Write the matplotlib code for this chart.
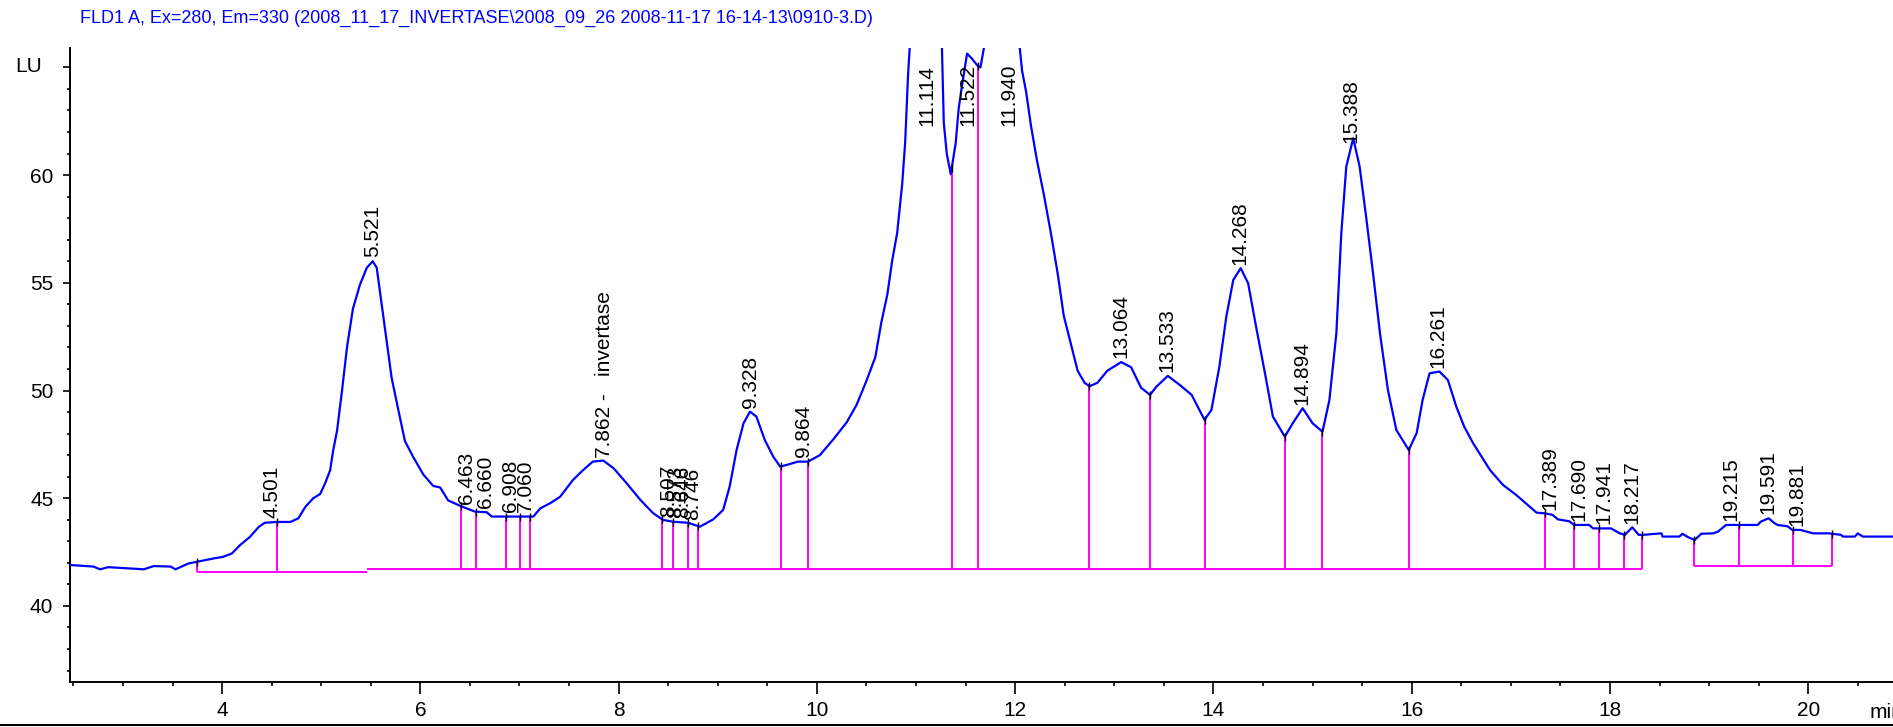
import numpy as np
import matplotlib
matplotlib.use("Agg")
import matplotlib.pyplot as plt
from matplotlib.lines import Line2D
from matplotlib.ticker import MultipleLocator

plt.rcParams["font.family"] = ["Liberation Sans", "DejaVu Sans"]

TITLE = r"FLD1 A, Ex=280, Em=330 (2008_11_17_INVERTASE\2008_09_26 2008-11-17 16-14-13\0910-3.D)"

# detector trace (min, LU); apexes of 11.1 / 11.9 are off scale
trace_t = [
    2.47, 2.70, 2.77, 2.85, 3.04, 3.21, 3.31, 3.48, 3.53, 3.66, 3.745, 3.91, 4.01, 4.10,
    4.18, 4.28, 4.37, 4.43, 4.55, 4.69, 4.77, 4.84, 4.92, 4.99, 5.04, 5.09, 5.12, 5.16,
    5.21, 5.26, 5.32, 5.39, 5.46, 5.52, 5.56, 5.61, 5.66, 5.71, 5.78, 5.845, 5.93, 6.03,
    6.13, 6.20, 6.28, 6.40, 6.55, 6.67, 6.72, 6.87, 7.14, 7.21, 7.31, 7.41, 7.54, 7.64,
    7.74, 7.845, 7.95, 8.08, 8.22, 8.35, 8.45, 8.55, 8.70, 8.82, 8.955, 9.055, 9.12, 9.19,
    9.26, 9.325, 9.39, 9.475, 9.56, 9.63, 9.69, 9.81, 9.91, 10.03, 10.165, 10.30, 10.40,
    10.50, 10.59, 10.65, 10.71, 10.76, 10.81, 10.86, 10.89, 10.92, 10.94, 11.00, 11.11,
    11.22, 11.26, 11.28, 11.31, 11.35, 11.40, 11.43, 11.465, 11.515, 11.565, 11.62, 11.65,
    11.70, 11.80, 11.94, 12.00, 12.04, 12.07, 12.11, 12.16, 12.22, 12.29, 12.36, 12.43,
    12.49, 12.56, 12.63, 12.70, 12.75, 12.83, 12.93, 13.07, 13.17, 13.27, 13.36, 13.425,
    13.54, 13.66, 13.78, 13.91, 13.98, 14.06, 14.13, 14.20, 14.275, 14.35, 14.43, 14.52,
    14.60, 14.72, 14.80, 14.90, 15.00, 15.10, 15.17, 15.24, 15.29, 15.34, 15.41, 15.475,
    15.54, 15.61, 15.68, 15.76, 15.845, 15.97, 16.05, 16.11, 16.18, 16.28, 16.365, 16.45,
    16.53, 16.62, 16.75, 16.79, 16.92, 17.055, 17.19, 17.26, 17.34, 17.42, 17.475, 17.59,
    17.64, 17.79, 17.83, 18.01, 18.10, 18.15, 18.225, 18.29, 18.33, 18.52, 18.53, 18.70,
    18.73, 18.785, 18.855, 18.92, 19.04, 19.09, 19.17, 19.30, 19.49, 19.52, 19.60, 19.66,
    19.69, 19.79, 19.84, 19.92, 20.05, 20.21, 20.33, 20.35, 20.47, 20.50, 20.55, 20.86,
]
trace_lu = [
    41.90, 41.83, 41.70, 41.80, 41.75, 41.70, 41.85, 41.83, 41.70, 41.97, 42.05, 42.20, 42.28, 42.44,
    42.82, 43.20, 43.67, 43.86, 43.90, 43.90, 44.07, 44.60, 45.00, 45.20, 45.70, 46.30, 47.20, 48.14,
    50.00, 52.00, 53.80, 54.90, 55.70, 56.00, 55.70, 54.00, 52.30, 50.60, 49.05, 47.65, 46.90, 46.10,
    45.57, 45.50, 44.90, 44.65, 44.38, 44.35, 44.15, 44.15, 44.15, 44.53, 44.77, 45.07, 45.85, 46.30,
    46.70, 46.75, 46.39, 45.70, 44.92, 44.30, 43.99, 43.91, 43.86, 43.68, 44.02, 44.46, 45.54, 47.24,
    48.48, 49.02, 48.79, 47.70, 46.93, 46.47, 46.54, 46.70, 46.70, 47.00, 47.73, 48.52, 49.33,
    50.45, 51.56, 53.16, 54.44, 56.04, 57.32, 59.56, 61.48, 64.68, 66.20, 70.00, 72.00,
    69.00, 66.20, 62.44, 61.00, 60.04, 61.48, 63.08, 64.20, 65.64, 65.40, 65.08, 65.00,
    66.30, 69.00, 71.00, 68.50, 66.20, 64.84, 63.88, 62.28, 60.68, 59.08, 57.32, 55.40,
    53.48, 52.20, 50.92, 50.36, 50.20, 50.36, 50.92, 51.32, 51.08, 50.13, 49.80, 50.18,
    50.68, 50.26, 49.80, 48.64, 49.10, 51.11, 53.43, 55.13, 55.68, 54.98, 52.97, 50.80,
    48.79, 47.86, 48.48, 49.18, 48.48, 48.09, 49.56, 52.66, 57.30, 60.39, 61.71, 60.39,
    58.07, 55.45, 52.66, 50.03, 48.17, 47.24, 48.02, 49.56, 50.80, 50.88, 50.49, 49.25,
    48.32, 47.55, 46.60, 46.31, 45.62, 45.15, 44.61, 44.33, 44.30, 44.23, 44.02, 43.93,
    43.76, 43.76, 43.60, 43.60, 43.37, 43.30, 43.65, 43.30, 43.30, 43.37, 43.22, 43.22,
    43.35, 43.20, 43.06, 43.35, 43.37, 43.45, 43.76, 43.76, 43.76, 43.91, 44.07, 43.84,
    43.76, 43.70, 43.53, 43.53, 43.37, 43.37, 43.30, 43.22, 43.22, 43.37, 43.22, 43.22,
]

# peak annotations
peak_rt = [4.501, 5.521, 6.463, 6.660, 6.908, 7.060, 7.862, 8.507, 8.573, 8.646, 8.746,
           9.328, 9.864, 11.114, 11.522, 11.940, 13.064, 13.533, 14.268, 14.894, 15.388,
           16.261, 17.389, 17.690, 17.941, 18.217, 19.215, 19.591, 19.881]
peak_names = {7.862: "invertase"}

# integration baselines: (start, end, level) and the peak boundaries on each
base_start = [3.745, 5.46, 18.85]
base_end = [5.46, 18.32, 20.24]
base_level = [41.59, 41.72, 41.87]
base_drops = [
    [3.745, 4.55],
    [6.41, 6.56, 6.86, 7.01, 7.11, 8.44, 8.55, 8.70, 8.80, 9.635, 9.91, 11.36, 11.625,
     12.74, 13.36, 13.91, 14.72, 15.10, 15.97, 17.34, 17.64, 17.89, 18.14, 18.32],
    [18.85, 19.30, 19.85, 20.24],
]

W, H = 1893, 727
fig = plt.figure(figsize=(W / 100, H / 100), dpi=100)
ax = fig.add_axes([70 / W, (H - 682) / H, 1 - 70 / W, (682 - 48) / H])

ax.plot(trace_t, trace_lu, color="#0000ff", lw=1.6, zorder=3)

for x0, x1, lev, drops in zip(base_start, base_end, base_level, base_drops):
    ax.hlines(lev, x0, x1, color="#ff00ff", lw=1.4, zorder=2)
    tops = np.interp(drops, trace_t, trace_lu)
    ax.vlines(drops, lev, tops, color="#ff00ff", lw=1.4, zorder=2)
    ax.plot(drops, tops, ls="none", marker="|", ms=6, mew=1.0, color="black", zorder=4)

for rt in peak_rt:
    txt = f"{rt:.3f}"
    if rt in peak_names:
        txt += " -   " + peak_names[rt]
    y = min(np.interp(rt, trace_t, trace_lu), 62.1)
    ax.annotate(txt, (rt, y), xytext=(0, 3), textcoords="offset points",
                rotation=90, ha="center", va="bottom", fontsize=15)

ax.set_xlim(2.466, 20.855)
ax.set_ylim(36.47, 65.9)
ax.set_xticks([4, 6, 8, 10, 12, 14, 16, 18, 20])
ax.xaxis.set_minor_locator(MultipleLocator(0.5))
ax.set_yticks([40, 45, 50, 55, 60, 65])
ax.set_yticklabels(["40", "45", "50", "55", "60", ""])
ax.yaxis.set_minor_locator(MultipleLocator(1))
ax.tick_params(axis="x", which="major", length=8.5, width=1.2, pad=5, labelsize=15)
ax.tick_params(axis="x", which="minor", length=3, width=1.2)
ax.tick_params(axis="y", which="major", length=5, width=1.2, pad=7, labelsize=15)
ax.tick_params(axis="y", which="minor", length=2.5, width=1.2)
for s in ("top", "right"):
    ax.spines[s].set_visible(False)
for s in ("left", "bottom"):
    ax.spines[s].set_linewidth(1.4)

fig.text(80 / W, 1 - 10 / H, TITLE, color="#0000ff", ha="left", va="top", fontsize=13)
fig.text(15 / W, 1 - 67 / H, "LU", ha="left", va="center", fontsize=15)
fig.text(1870 / W, 1 - 713 / H, "min", ha="left", va="center", fontsize=15)
fig.add_artist(Line2D([0, 1], [2 / H, 2 / H], color="black", lw=1.5, transform=fig.transFigure))

fig.savefig("out.png", dpi=100)
